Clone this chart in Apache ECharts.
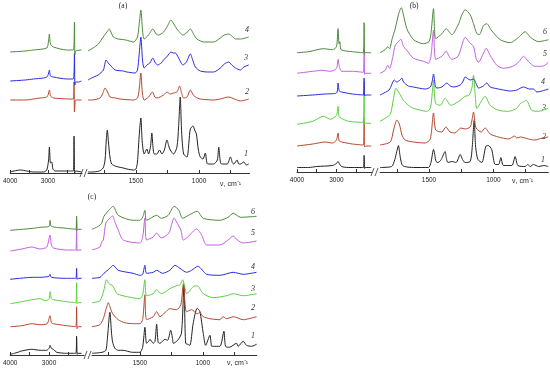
<!DOCTYPE html>
<html><head><meta charset="utf-8">
<script src="https://cdn.jsdelivr.net/npm/echarts/dist/echarts.min.js"></script>
<style>html,body{margin:0;padding:0;background:#fff}#chart{width:550px;height:369px}</style>
</head><body><div id="chart"></div>
<script>
// ---- tick values (cm^-1) ----
const leftTicks = [4000, 3500, 3000, 2500];
const leftLabels = [4000, 3000];
const rightTicks = [1750, 1500, 1250, 1000, 750];
const rightLabels = [1500, 1000];

// ---- Panel (a) spectra: [wavenumber, intensity a.u.] ----
const a1L = [[4000,0],[3900,1],[3736,2],[3560,1],[3385,0],[3120,0],[3032,2],[2985,12],[2963,25],[2935,9],[2900,10],[2870,3],[2812,1],[2500,1],[2330,1],[2311,36],[2295,-1],[2270,1],[2110,0]];
const a1R = [[1880,0],[1851,0],[1790,1],[1760,4],[1745,12],[1735,32],[1727,42],[1718,30],[1705,14],[1692,8],[1665,6],[1639,5],[1600,4],[1572,3],[1519,2],[1500,3],[1488,10],[1475,35],[1461,54],[1450,30],[1435,18],[1413,23],[1400,18],[1385,25],[1374,39],[1365,25],[1355,18],[1334,18],[1313,22],[1294,18],[1275,22],[1254,32],[1240,26],[1228,22],[1202,18],[1175,25],[1162,45],[1149,75],[1138,40],[1122,18],[1095,15],[1080,30],[1069,43],[1048,46],[1035,42],[1021,38],[1005,22],[990,15],[969,13],[950,19],[932,8],[884,8],[855,12],[844,25],[833,12],[823,8],[777,8],[751,15],[735,9],[725,8],[698,12],[685,8],[672,8],[645,10],[625,7],[606,8]];
const a2L = [[4000,0],[3600,0],[3385,1],[3208,2],[3032,3],[2990,6],[2963,10],[2935,4],[2900,3],[2857,2],[2417,1],[2330,1],[2311,18],[2300,-12],[2285,-4],[2270,0],[2110,0]];
const a2R = [[1880,0],[1851,0],[1785,2],[1765,6],[1745,12],[1725,8],[1705,3],[1660,2],[1626,1],[1519,0],[1488,2],[1475,10],[1461,27],[1450,8],[1435,0],[1400,3],[1369,8],[1350,3],[1334,2],[1281,5],[1254,8],[1228,6],[1202,7],[1175,8],[1154,14],[1140,8],[1122,2],[1095,3],[1069,10],[1050,6],[1029,3],[990,1],[884,0],[831,1],[765,3],[720,1],[672,-1],[606,1]];
const a3L = [[4000,-1],[3600,0],[3385,1],[3120,2],[3032,3],[2990,6],[2963,10],[2935,4],[2857,3],[2504,1],[2330,1],[2300,27],[2288,-5],[2270,-2],[2197,-2],[2110,-1]];
const a3R = [[1880,0],[1851,2],[1800,5],[1758,10],[1745,17],[1737,20],[1720,17],[1705,15],[1665,10],[1600,9],[1572,8],[1506,7],[1488,10],[1475,25],[1461,43],[1448,20],[1435,12],[1413,15],[1390,17],[1366,22],[1350,18],[1329,15],[1300,17],[1281,20],[1250,24],[1223,28],[1205,27],[1188,27],[1162,22],[1127,15],[1100,18],[1069,26],[1050,20],[1029,13],[990,9],[930,8],[884,8],[831,12],[800,16],[765,18],[740,15],[711,12],[672,10],[645,13],[606,15]];
const a4L = [[4000,0],[3600,1],[3385,2],[3032,4],[2990,10],[2963,18],[2935,8],[2857,5],[2504,2],[2330,2],[2300,30],[2288,-3],[2270,1],[2110,2]];
const a4R = [[1880,1],[1840,4],[1798,8],[1760,15],[1730,20],[1711,23],[1695,19],[1679,15],[1639,13],[1580,12],[1519,10],[1488,15],[1475,27],[1461,42],[1448,22],[1435,13],[1400,17],[1366,23],[1340,18],[1321,17],[1281,20],[1250,26],[1223,32],[1200,28],[1175,23],[1127,17],[1100,19],[1069,23],[1040,17],[1016,13],[963,10],[884,10],[831,14],[800,17],[765,18],[740,16],[711,13],[672,13],[606,15]];
const offsetsA = [1, 73, 93, 121];

// ---- Panel (b) spectra ----
const b1L = [[4000,0],[3700,0],[3500,1],[3100,2],[3000,4],[2960,6],[2930,4],[2870,1],[2700,0],[2320,0],[2300,12],[2288,-1],[2270,0],[2120,0]];
const b1R = [[1880,0],[1790,1],[1765,8],[1750,16],[1737,22],[1725,12],[1710,3],[1690,1],[1620,0],[1504,0],[1485,5],[1465,18],[1445,6],[1431,5],[1405,8],[1375,16],[1365,9],[1354,5],[1320,6],[1290,5],[1258,13],[1240,8],[1220,5],[1181,6],[1165,20],[1150,47],[1138,20],[1121,8],[1090,5],[1060,21],[1040,22],[1014,18],[987,3],[960,3],[943,10],[923,2],[858,2],[832,11],[811,2],[755,1],[735,3],[715,1],[690,3],[650,1],[610,2],[576,1]];
const b2L = [[4000,0],[3600,2],[3289,4],[3100,3],[3000,6],[2960,13],[2930,5],[2867,4],[2600,2],[2320,1],[2300,28],[2288,-1],[2270,0],[2120,0]];
const b2R = [[1880,1],[1800,4],[1775,16],[1749,26],[1730,22],[1710,11],[1685,6],[1620,4],[1530,3],[1490,7],[1465,33],[1448,16],[1400,14],[1370,19],[1336,14],[1300,13],[1253,18],[1220,17],[1181,19],[1168,25],[1155,34],[1140,20],[1129,17],[1095,14],[1065,18],[1026,12],[961,9],[883,7],[835,10],[820,8],[790,9],[730,7],[680,6],[620,8],[576,9]];
const b3L = [[4000,-1],[3600,2],[3333,7],[3150,4],[3000,8],[2960,17],[2940,8],[2920,6],[2700,2],[2320,1],[2300,41],[2288,-1],[2270,0],[2120,0]];
const b3R = [[1880,2],[1840,5],[1800,9],[1775,25],[1757,35],[1730,30],[1698,23],[1660,18],[1620,15],[1517,12],[1490,15],[1475,30],[1465,43],[1450,20],[1413,18],[1375,25],[1331,18],[1269,22],[1220,27],[1190,28],[1168,35],[1155,48],[1140,25],[1129,15],[1090,23],[1065,27],[1026,18],[961,13],[883,12],[820,15],[790,20],[760,22],[745,23],[703,13],[650,12],[576,15]];
const b4L = [[4000,-1],[3600,0],[3300,1],[3000,2],[2960,12],[2930,4],[2870,3],[2600,1],[2320,0],[2300,17],[2288,-1],[2270,0],[2120,0]];
const b4R = [[1880,0],[1810,5],[1790,10],[1770,15],[1750,13],[1724,15],[1710,17],[1698,13],[1660,9],[1620,8],[1530,6],[1490,8],[1475,14],[1465,21],[1450,8],[1439,7],[1400,8],[1362,12],[1336,9],[1310,8],[1258,10],[1235,14],[1220,18],[1181,15],[1155,16],[1130,10],[1117,7],[1078,9],[1052,12],[1026,8],[1000,7],[923,5],[870,4],[819,5],[768,8],[720,6],[690,6],[664,3],[574,6]];
const b5L = [[4000,0],[3600,2],[3373,3],[3150,2],[3000,5],[2960,14],[2930,7],[2867,2],[2600,2],[2320,1],[2300,24],[2288,-1],[2270,0],[2120,0]];
const b5R = [[1880,0],[1840,3],[1820,8],[1805,5],[1780,17],[1762,28],[1735,32],[1718,34],[1698,27],[1672,23],[1620,15],[1543,12],[1504,10],[1485,17],[1465,43],[1448,14],[1400,17],[1367,22],[1340,16],[1323,14],[1275,17],[1245,28],[1220,36],[1181,30],[1155,27],[1135,15],[1117,11],[1078,20],[1057,25],[1026,18],[974,8],[923,5],[850,7],[800,12],[768,17],[730,12],[680,7],[620,7],[574,11]];
const b6L = [[4000,0],[3700,1],[3333,4],[3100,3],[3000,6],[2960,24],[2935,9],[2915,11],[2880,3],[2600,1],[2320,0],[2300,30],[2288,-1],[2270,0],[2120,0]];
const b6R = [[1880,0],[1840,3],[1820,6],[1805,4],[1788,13],[1762,24],[1737,38],[1715,45],[1700,39],[1672,24],[1620,13],[1543,9],[1500,11],[1485,19],[1465,44],[1448,14],[1400,19],[1367,24],[1323,18],[1270,29],[1245,38],[1220,43],[1181,38],[1155,29],[1129,19],[1110,18],[1078,27],[1052,29],[1020,23],[948,13],[870,10],[800,16],[755,21],[710,15],[650,11],[574,13]];
const offsetsB = [4.5, 26, 48.7, 77, 98.7, 119.3];

// ---- Panel (c) spectra ----
const c1L = [[4000,-1],[3800,1],[3744,2],[3444,4],[3231,3],[3060,3],[3000,5],[2974,8],[2940,5],[2889,4],[2800,1],[2547,0],[2310,0],[2291,17],[2275,-1],[2260,0],[2162,0]];
const c1R = [[1880,0],[1800,1],[1770,3],[1759,13],[1738,41],[1725,20],[1716,11],[1698,5],[1672,3],[1632,3],[1560,1],[1500,1],[1478,6],[1460,26],[1447,10],[1430,12],[1420,14],[1394,10],[1380,12],[1367,29],[1355,11],[1341,10],[1301,14],[1280,13],[1255,23],[1240,14],[1235,10],[1200,13],[1170,20],[1150,68],[1137,10],[1120,9],[1103,8],[1077,30],[1045,45],[1024,42],[997,20],[978,8],[944,18],[930,7],[918,7],[865,7],[833,22],[820,7],[790,6],[733,10],[720,7],[680,12],[654,8],[613,7],[574,9]];
const c2L = [[4000,0],[3700,1],[3444,3],[3231,2],[3050,3],[2974,11],[2940,4],[2889,3],[2547,1],[2310,0],[2291,20],[2278,-2],[2260,0],[2162,0]];
const c2R = [[1880,0],[1817,2],[1790,8],[1770,17],[1750,24],[1738,20],[1716,13],[1672,7],[1620,4],[1553,3],[1500,3],[1478,7],[1460,32],[1447,7],[1394,10],[1367,15],[1341,10],[1301,14],[1262,18],[1209,17],[1175,22],[1155,43],[1140,20],[1129,15],[1090,17],[1045,13],[1024,14],[997,10],[944,8],[865,7],[840,10],[812,8],[759,10],[680,7],[574,10]];
const c3L = [[4000,-1],[3700,1],[3444,3],[3231,4],[3100,2],[3000,4],[2974,11],[2940,4],[2889,3],[2547,1],[2310,0],[2291,20],[2278,-1],[2260,0],[2162,0]];
const c3R = [[1880,0],[1817,2],[1785,13],[1765,23],[1745,19],[1716,17],[1680,9],[1600,6],[1500,4],[1478,8],[1460,23],[1447,7],[1394,9],[1367,13],[1330,9],[1262,14],[1209,17],[1180,18],[1161,23],[1140,14],[1129,9],[1077,16],[1045,17],[997,9],[918,5],[812,7],[759,9],[680,7],[574,9]];
const c4L = [[4000,-1],[3400,1],[3231,1],[3000,2],[2974,4],[2940,1],[2547,0],[2310,0],[2291,10],[2278,-1],[2260,0],[2162,0]];
const c4R = [[1880,0],[1817,1],[1785,5],[1738,10],[1712,13],[1672,8],[1553,5],[1500,3],[1478,4],[1460,13],[1447,5],[1394,6],[1367,8],[1320,5],[1262,8],[1222,13],[1182,10],[1129,6],[1090,8],[1040,12],[970,4],[865,3],[759,6],[680,4],[574,6]];
const c5L = [[4000,-1],[3700,1],[3444,3],[3231,1],[3060,3],[2974,15],[2940,5],[2889,2],[2547,0],[2310,0],[2291,30],[2278,-1],[2260,0],[2162,0]];
const c5R = [[1880,0],[1817,3],[1804,8],[1790,10],[1770,27],[1738,32],[1716,34],[1698,28],[1672,20],[1632,10],[1500,7],[1478,13],[1460,32],[1447,10],[1394,13],[1367,17],[1330,12],[1270,17],[1228,32],[1209,28],[1175,20],[1155,10],[1120,13],[1050,21],[1010,15],[970,5],[865,5],[800,10],[759,14],[727,10],[680,7],[574,9]];
const c6L = [[4000,-1],[3400,1],[3231,2],[3000,3],[2974,9],[2940,3],[2547,1],[2310,0],[2291,13],[2278,-1],[2260,0],[2162,0]];
const c6R = [[1880,0],[1830,3],[1804,6],[1785,13],[1740,20],[1712,23],[1672,14],[1553,9],[1500,9],[1478,12],[1460,19],[1447,9],[1367,14],[1330,11],[1275,14],[1228,23],[1190,19],[1161,11],[1100,15],[1045,18],[997,11],[865,9],[800,12],[759,16],[700,12],[574,13]];
const offsetsC = [1.7, 28.3, 52.3, 76.7, 105, 125.7];

const spectrumNames = ['1','2','3','4','5','6'];

// ---- colours ----
const BLACK = '#222222', BROWN = '#b5472f', BLUE = '#2b2be0', DGREEN = '#4c8a3a', LGREEN = '#5ccf44', MAGENTA = '#c35fe0';

const panels = [
  { title:'(a)', titlePos:[123,6], top:5, height:168, lLeft:10, lWidth:72, rLeft:88, rWidth:161.5, rMin:600, lMin:2100,
    spectra:[[a1L,a1R],[a2L,a2R],[a3L,a3R],[a4L,a4R]], offsets:offsetsA, colors:[BLACK,BROWN,BLUE,DGREEN],
    numPos:[[246,154],[247,92],[246,58],[247,30]], unitPos:[220,184], brk:80 },
  { title:'(b)', titlePos:[414,6], top:5, height:167, lLeft:297, lWidth:75, rLeft:380, rWidth:168.3, rMin:575, lMin:2100,
    spectra:[[b1L,b1R],[b2L,b2R],[b3L,b3R],[b4L,b4R],[b5L,b5R],[b6L,b6R]], offsets:offsetsB, colors:[BLACK,BROWN,LGREEN,BLUE,MAGENTA,DGREEN],
    numPos:[[543,160],[544,137],[544,108],[543,82],[545,54],[545,32]], unitPos:[512,181], brk:371 },
  { title:'(c)', titlePos:[92,197], top:200, height:155, lLeft:10, lWidth:74, rLeft:92, rWidth:164.8, rMin:572, lMin:2100,
    spectra:[[c1L,c1R],[c2L,c2R],[c3L,c3R],[c4L,c4R],[c5L,c5R],[c6L,c6R]], offsets:offsetsC, colors:[BLACK,BROWN,LGREEN,BLUE,MAGENTA,DGREEN],
    numPos:[[253,336],[253,308],[253,289],[253,267],[253,233],[253,212]], unitPos:[227,363], brk:84 }
];

const grids = [], xAxes = [], yAxes = [], series = [], graphics = [];
const tickFont = { fontSize: 6.5, color: '#222', fontFamily: 'Liberation Sans, Arial, sans-serif', margin: 5,
  formatter: (v) => String(Math.round(v)) };

panels.forEach((p) => {
  const gL = grids.length;
  grids.push({ left: p.lLeft, width: p.lWidth, top: p.top, height: p.height });
  grids.push({ left: p.rLeft, width: p.rWidth, top: p.top, height: p.height });
  const axisCommon = {
    type: 'value', inverse: true, splitLine: { show: false },
    axisLine: { show: true, onZero: false, lineStyle: { color: '#333', width: 1 } }
  };
  xAxes.push(Object.assign({}, axisCommon, { gridIndex: gL, min: p.lMin, max: 4000,
    axisTick: { show: true, inside: true, length: 3, customValues: leftTicks, lineStyle: { color: '#333' } },
    axisLabel: Object.assign({ customValues: leftLabels }, tickFont) }));
  xAxes.push(Object.assign({}, axisCommon, { gridIndex: gL + 1, min: p.rMin, max: 1880,
    axisTick: { show: true, inside: true, length: 3, customValues: rightTicks, lineStyle: { color: '#333' } },
    axisLabel: Object.assign({ customValues: rightLabels }, tickFont) }));
  yAxes.push({ type: 'value', gridIndex: gL, min: 0, max: p.height, show: false });
  yAxes.push({ type: 'value', gridIndex: gL + 1, min: 0, max: p.height, show: false });

  p.spectra.forEach((seg, i) => {
    [0, 1].forEach((s) => {
      series.push({
        type: 'line', name: spectrumNames[i], xAxisIndex: gL + s, yAxisIndex: gL + s,
        data: seg[s].map(d => [d[0], d[1] + p.offsets[i]]),
        showSymbol: false, smooth: 0.25, silent: true, animation: false,
        lineStyle: { width: 1, color: p.colors[i] }, z: 2 + i
      });
    });
  });

  graphics.push({ type: 'text', x: p.titlePos[0], y: p.titlePos[1],
    style: { text: p.title, font: '7.5px "Liberation Serif", serif', fill: '#222', textAlign: 'center', textVerticalAlign: 'middle' } });
  p.numPos.forEach((pos, i) => {
    graphics.push({ type: 'text', x: pos[0], y: pos[1],
      style: { text: spectrumNames[i], font: 'italic 8px "Liberation Serif", serif', fill: '#333', textAlign: 'center', textVerticalAlign: 'middle' } });
  });
  graphics.push({ type: 'text', x: p.unitPos[0], y: p.unitPos[1],
    style: { text: '\u03bd, cm\u207b\u00b9', font: '7px "Liberation Sans", Arial, sans-serif', fill: '#222', textAlign: 'left', textVerticalAlign: 'middle' } });
  const yb = p.top + p.height;
  [0, 4].forEach((dx) => {
    graphics.push({ type: 'line', shape: { x1: p.brk + dx, y1: yb + 4, x2: p.brk + dx + 3, y2: yb - 4 },
      style: { stroke: '#333', lineWidth: 0.8 } });
  });
});

const chart = echarts.init(document.getElementById('chart'), null, { renderer: 'canvas' });
chart.setOption({
  backgroundColor: '#ffffff',
  animation: false,
  grid: grids, xAxis: xAxes, yAxis: yAxes, series: series, graphic: graphics
});
</script>
</body></html>
